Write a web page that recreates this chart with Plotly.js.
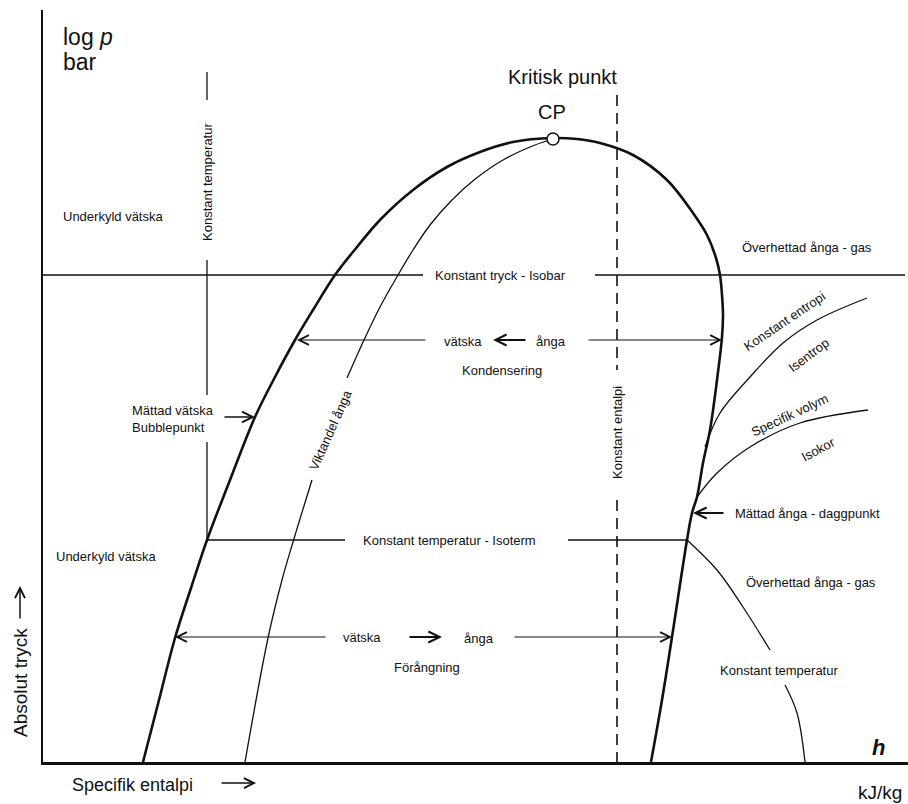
<!DOCTYPE html>
<html>
<head>
<meta charset="utf-8">
<script src="https://cdn.plot.ly/plotly-3.0.1.min.js"></script>
<style>html,body{margin:0;padding:0;background:#fff;}#chart{width:908px;height:804px;}</style>
</head>
<body>
<div id="chart"></div>
<script>
// ---- data (h = specific enthalpy units, p = log p units) ----
const domeH = [143,159,175,191,207,230,255,275,295,313,335,357,380,413,447,480,513,553,577,600,633,667,693,707,716,720,722,723,722,717,710,703,697,692,687,672,662,651];
const domeP = [42,104,166,216,264,324,387,427,464,494,529,557,584,614,637,652,662,666,665,661,649,624,591,569,546,529,509,489,467,424,374,341,307,291,264,167,104,42];

const qualityH = [553,535,503,474,452,430,413,398,380,364,347,null,312,293,282,268,245];
const qualityP = [665,659,644,624,604,579,554,529,497,464,426,null,324,262,224,166,42];

const isobarH = [43,423,null,595,905];
const isobarP = [529,529,null,529,529];

const isothermVertH = [207,207,null,207,207,null,207,207];
const isothermVertP = [732,704,null,544,409,null,362,264];

const isothermH = [207,345,null,568,687];
const isothermP = [264,264,null,264,264];

const isothermGasH = [687,717,743,770,null,785,797,805];
const isothermGasP = [264,234,197,154,null,119,91,42];

const isenthalpH = [617,617,null,617,617];
const isenthalpP = [709,434,null,304,42];

const isentropH = [705,720,750,783,817,867];
const isentropP = [357,391,427,461,484,506];

const isochorH = [697,717,750,800,868];
const isochorP = [307,331,357,381,394];

const cpH = [553];
const cpP = [665];

// arrows: tail h, head h, level p
const arrowFromH = [427,587,527,327,513,408,223,725];
const arrowToH   = [297,722,493,175,672,442,255,693];
const arrowP     = [464,464,464,167,167,167,387,291];

// ---- styles ----
const INK = '#111';
const SMALL = {family:'"Liberation Sans",Arial,sans-serif', size:13, color:INK};
const BIG = {family:'"Liberation Sans",Arial,sans-serif', size:20, color:INK};

function line(h, p, w, extra){
  return Object.assign({x:h, y:p, type:'scatter', mode:'lines', hoverinfo:'skip', connectgaps:false,
    line:{color:INK, width:w}}, extra||{});
}
const curve = (w) => ({line:{color:INK, width:w, shape:'spline', smoothing:1}});

const traces = [
  line(domeH, domeP, 2.6, curve(2.6)),
  line(qualityH, qualityP, 1.3, curve(1.3)),
  line(isobarH, isobarP, 1.3),
  line(isothermVertH, isothermVertP, 1.3),
  line(isothermH, isothermP, 1.3),
  line(isothermGasH, isothermGasP, 1.3, curve(1.3)),
  line(isenthalpH, isenthalpP, 1.6, {line:{color:INK,width:1.6,dash:'11px,7px'}}),
  line(isentropH, isentropP, 1.3, curve(1.3)),
  line(isochorH, isochorP, 1.3, curve(1.3)),
  {x:cpH, y:cpP, type:'scatter', mode:'markers', hoverinfo:'skip',
   marker:{symbol:'circle', size:12, color:'#fff', line:{color:INK, width:1.5}}}
];

const arrowWidths = [1.2,1.2,2,1.2,1.2,2,1.4,2];
const arrowSizes  = [1.6,1.6,1.1,1.6,1.6,1.1,1.5,1.1];

const ann = [];
for (let i = 0; i < arrowP.length; i++) {
  ann.push({x:arrowToH[i], y:arrowP[i], ax:arrowFromH[i], ay:arrowP[i], axref:'x', ayref:'y',
    xref:'x', yref:'y', text:'', showarrow:true, arrowhead:5, arrowsize:arrowSizes[i],
    arrowwidth:arrowWidths[i], arrowcolor:INK, standoff:0, startstandoff:0});
}

function txt(t, x, y, font, opt){
  return Object.assign({text:t, x:x, y:y, xref:'x', yref:'y', showarrow:false, font:font,
    xanchor:'center', yanchor:'middle'}, opt||{});
}
const big22 = Object.assign({}, BIG, {size:23});
ann.push(
  txt('log <i>p</i>', 61, 767, big22, {xanchor:'left'}),
  txt('bar', 61, 742, big22, {xanchor:'left'}),
  txt('Underkyld vätska', 113, 588, SMALL),
  txt('Konstant temperatur', 207, 622, SMALL, {textangle:-90}),
  txt('Kritisk punkt', 562, 727, BIG),
  txt('CP', 552, 692, BIG),
  txt('Konstant tryck - Isobar', 500, 529, SMALL),
  txt('Överhettad ånga - gas', 807, 557, SMALL),
  txt('vätska', 463, 463, SMALL),
  txt('ånga', 551, 463, SMALL),
  txt('Kondensering', 502, 434, SMALL),
  txt('Konstant entropi', 784, 483, SMALL, {textangle:-34}),
  txt('Isentrop', 808, 449, SMALL, {textangle:-37}),
  txt('Specifik volym', 789, 389, SMALL, {textangle:-25}),
  txt('Isokor', 818, 355, SMALL, {textangle:-28}),
  txt('Mättad vätska<br>Bubblepunkt', 130, 385, SMALL, {xanchor:'left', align:'left'}),
  txt('Viktandel ånga', 330, 374, SMALL, {textangle:-66}),
  txt('Konstant entalpi', 617, 371, SMALL, {textangle:-90}),
  txt('Mättad ånga - daggpunkt', 733, 291, SMALL, {xanchor:'left'}),
  txt('Underkyld vätska', 106, 248, SMALL),
  txt('Konstant temperatur - Isoterm', 449, 264, SMALL),
  txt('Överhettad ånga - gas', 811, 222, SMALL),
  txt('vätska', 362, 167, SMALL),
  txt('ånga', 479, 166, SMALL),
  txt('Förångning', 427, 137, SMALL),
  txt('Konstant temperatur', 779, 134, SMALL),
  txt('<b><i>h</i></b>', 878, 57, Object.assign({}, BIG, {size:22})),
  // outside the plot area
  {text:'kJ/kg', x:880, y:-0.040, xref:'x', yref:'paper', showarrow:false, font:Object.assign({},BIG,{size:19}), xanchor:'center', yanchor:'middle'},
  {text:'Specifik entalpi', x:132, y:-0.031, xref:'x', yref:'paper', showarrow:false, font:Object.assign({},BIG,{size:18}), xanchor:'center', yanchor:'middle'},
  {text:'', x:256, y:-0.028, xref:'x', yref:'paper', ax:220, axref:'x', ay:0, ayref:'pixel', showarrow:true, arrowhead:5, arrowsize:1.3, arrowwidth:1.5, arrowcolor:INK, standoff:0},
  {text:'Absolut tryck', x:-0.0266, y:122, xref:'paper', yref:'y', showarrow:false, textangle:-90, font:Object.assign({},BIG,{size:19}), xanchor:'center', yanchor:'middle'},
  {text:'', x:-0.0266, y:218, xref:'paper', yref:'y', ax:0, axref:'pixel', ay:184, ayref:'y', showarrow:true, arrowhead:5, arrowsize:1.3, arrowwidth:1.5, arrowcolor:INK, standoff:0}
);

const layout = {
  width:908, height:804,
  margin:{l:43, r:0, t:10, b:42},
  paper_bgcolor:'#fff', plot_bgcolor:'#fff',
  showlegend:false,
  xaxis:{range:[43,908], showgrid:false, zeroline:false, showticklabels:false, ticks:'',
    showline:true, linewidth:2.5, linecolor:INK, fixedrange:true},
  yaxis:{range:[42,794], showgrid:false, zeroline:false, showticklabels:false, ticks:'',
    showline:true, linewidth:2.5, linecolor:INK, fixedrange:true},
  annotations: ann
};

Plotly.newPlot('chart', traces, layout, {staticPlot:true, displayModeBar:false});
</script>
</body>
</html>
